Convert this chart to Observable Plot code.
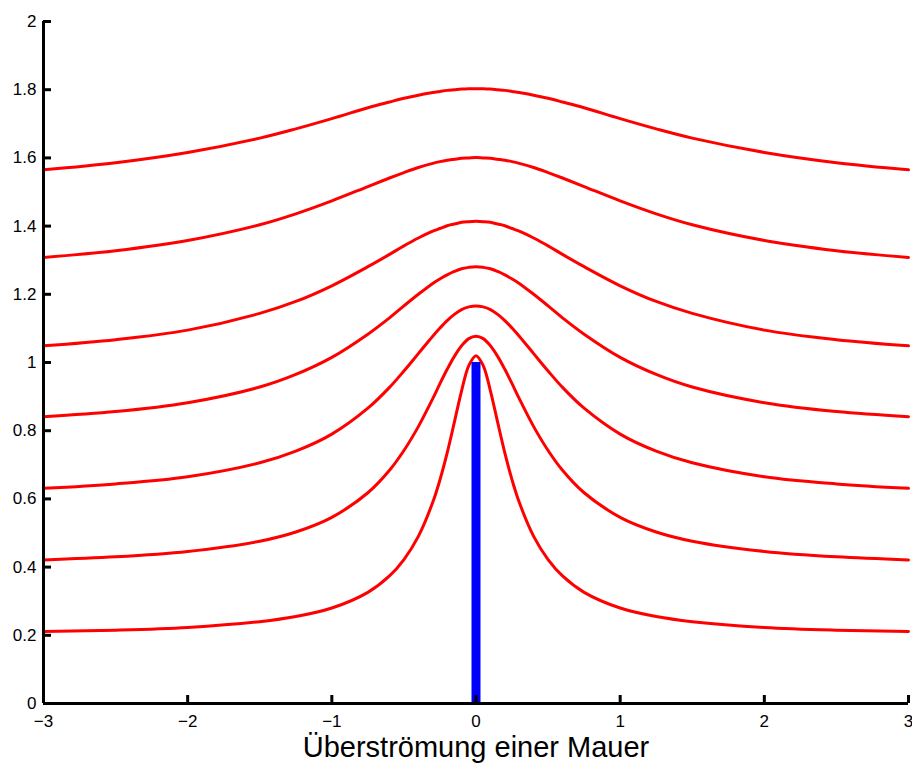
<!DOCTYPE html>
<html><head><meta charset="utf-8">
<script src="https://cdn.jsdelivr.net/npm/d3@7"></script>
<script src="https://cdn.jsdelivr.net/npm/@observablehq/plot@0.6"></script>
<style>html,body{margin:0;padding:0;background:#fff}svg{display:block}</style>
</head><body><div id="chart"></div>
<script>
// x positions of the sampled points along each streamline
const xs = [-3,-2.5,-2,-1.5,-1.25,-1,-0.75,-0.6,-0.5,-0.4,-0.3,-0.25,-0.2,-0.15,-0.1,-0.05,0,0.05,0.1,0.15,0.2,0.25,0.3,0.4,0.5,0.6,0.75,1,1.25,1.5,2,2.5,3];
// streamline heights (red curves), bottom to top
const s1 = [0.211,0.215,0.223,0.240,0.255,0.280,0.326,0.374,0.422,0.490,0.590,0.656,0.735,0.825,0.917,0.991,1.020,0.991,0.917,0.825,0.735,0.656,0.590,0.490,0.422,0.374,0.326,0.280,0.255,0.240,0.223,0.215,0.211];
const s2 = [0.421,0.430,0.446,0.476,0.503,0.546,0.618,0.684,0.742,0.812,0.894,0.938,0.980,1.018,1.049,1.070,1.077,1.070,1.049,1.018,0.980,0.938,0.894,0.812,0.742,0.684,0.618,0.546,0.503,0.476,0.446,0.430,0.421];
const s3 = [0.631,0.644,0.665,0.706,0.740,0.790,0.866,0.927,0.975,1.026,1.077,1.101,1.123,1.141,1.155,1.163,1.166,1.163,1.155,1.141,1.123,1.101,1.077,1.026,0.975,0.927,0.866,0.790,0.740,0.706,0.665,0.644,0.631];
const s4 = [0.841,0.856,0.882,0.928,0.965,1.015,1.083,1.131,1.166,1.200,1.232,1.245,1.257,1.267,1.275,1.279,1.281,1.279,1.275,1.267,1.257,1.245,1.232,1.200,1.166,1.131,1.083,1.015,0.965,0.928,0.882,0.856,0.841];
const s5 = [1.049,1.067,1.095,1.144,1.179,1.225,1.281,1.317,1.342,1.365,1.385,1.393,1.401,1.406,1.411,1.413,1.414,1.413,1.411,1.406,1.401,1.393,1.385,1.365,1.342,1.317,1.281,1.225,1.179,1.144,1.095,1.067,1.049];
const s6 = [1.308,1.328,1.358,1.404,1.436,1.474,1.516,1.541,1.557,1.572,1.584,1.589,1.593,1.596,1.599,1.600,1.601,1.600,1.599,1.596,1.593,1.589,1.584,1.572,1.557,1.541,1.516,1.474,1.436,1.404,1.358,1.328,1.308];
const s7 = [1.565,1.586,1.616,1.658,1.685,1.715,1.747,1.764,1.775,1.784,1.792,1.795,1.798,1.800,1.802,1.803,1.803,1.803,1.802,1.800,1.798,1.795,1.792,1.784,1.775,1.764,1.747,1.715,1.685,1.658,1.616,1.586,1.565];
// the wall (blue bar)
const wallX = [0];
const wallBottom = 0;
const wallTop = 1;
// ticks and labels
const xTicks = [-3,-2,-1,0,1,2,3];
const yTicks = [0,0.2,0.4,0.6,0.8,1,1.2,1.4,1.6,1.8,2];
const xLabel = "Überströmung einer Mauer";

const streamlines = [s1,s2,s3,s4,s5,s6,s7];
const rows = streamlines.flatMap((ys, i) => ys.map((y, j) => ({x: xs[j], y, line: i})));
const fmt = d => d < 0 ? "\u2212" + (-d) : String(d);

const W = 912, H = 764, mL = 43, mR = 4, mT = 21, mB = 61;
const frameW = W - mL - mR, frameH = H - mT - mB;

const chart = Plot.plot({
  width: W, height: H,
  marginLeft: mL, marginRight: mR, marginTop: mT, marginBottom: mB,
  style: {fontFamily: "'Liberation Sans', Arimo, Arial, Helvetica, sans-serif", background: "#fff", overflow: "visible"},
  x: {domain: [-3, 3], axis: null},
  y: {domain: [0, 2], axis: null},
  marks: [
    Plot.line(rows, {x: "x", y: "y", z: "line", stroke: "#ff0000", strokeWidth: 3, curve: "catmull-rom"}),
    Plot.ruleX(wallX, {x: d => d, y1: wallBottom, y2: wallTop, stroke: "#0000ff", strokeWidth: 9}),
    Plot.ruleY([0], {stroke: "#000", strokeWidth: 3}),
    Plot.ruleX([xTicks[0]], {stroke: "#000", strokeWidth: 3}),
    Plot.tickX(xTicks, {x: d => d, insetTop: frameH - 8, stroke: "#000", strokeWidth: 3}),
    Plot.tickY(yTicks, {y: d => d, insetRight: frameW - 8, stroke: "#000", strokeWidth: 3}),
    Plot.text(xTicks, {x: d => d, frameAnchor: "bottom", dy: 18, text: fmt, fontSize: 17, lineAnchor: "middle", fill: "#000"}),
    Plot.text(yTicks, {y: d => d, frameAnchor: "left", dx: -7, text: fmt, fontSize: 17, textAnchor: "end", fill: "#000"}),
    Plot.text([xLabel], {frameAnchor: "bottom", dy: 44, text: d => d, fontSize: 29, lineAnchor: "middle", fill: "#000"})
  ]
});
document.getElementById("chart").append(chart);
</script>
</body></html>
